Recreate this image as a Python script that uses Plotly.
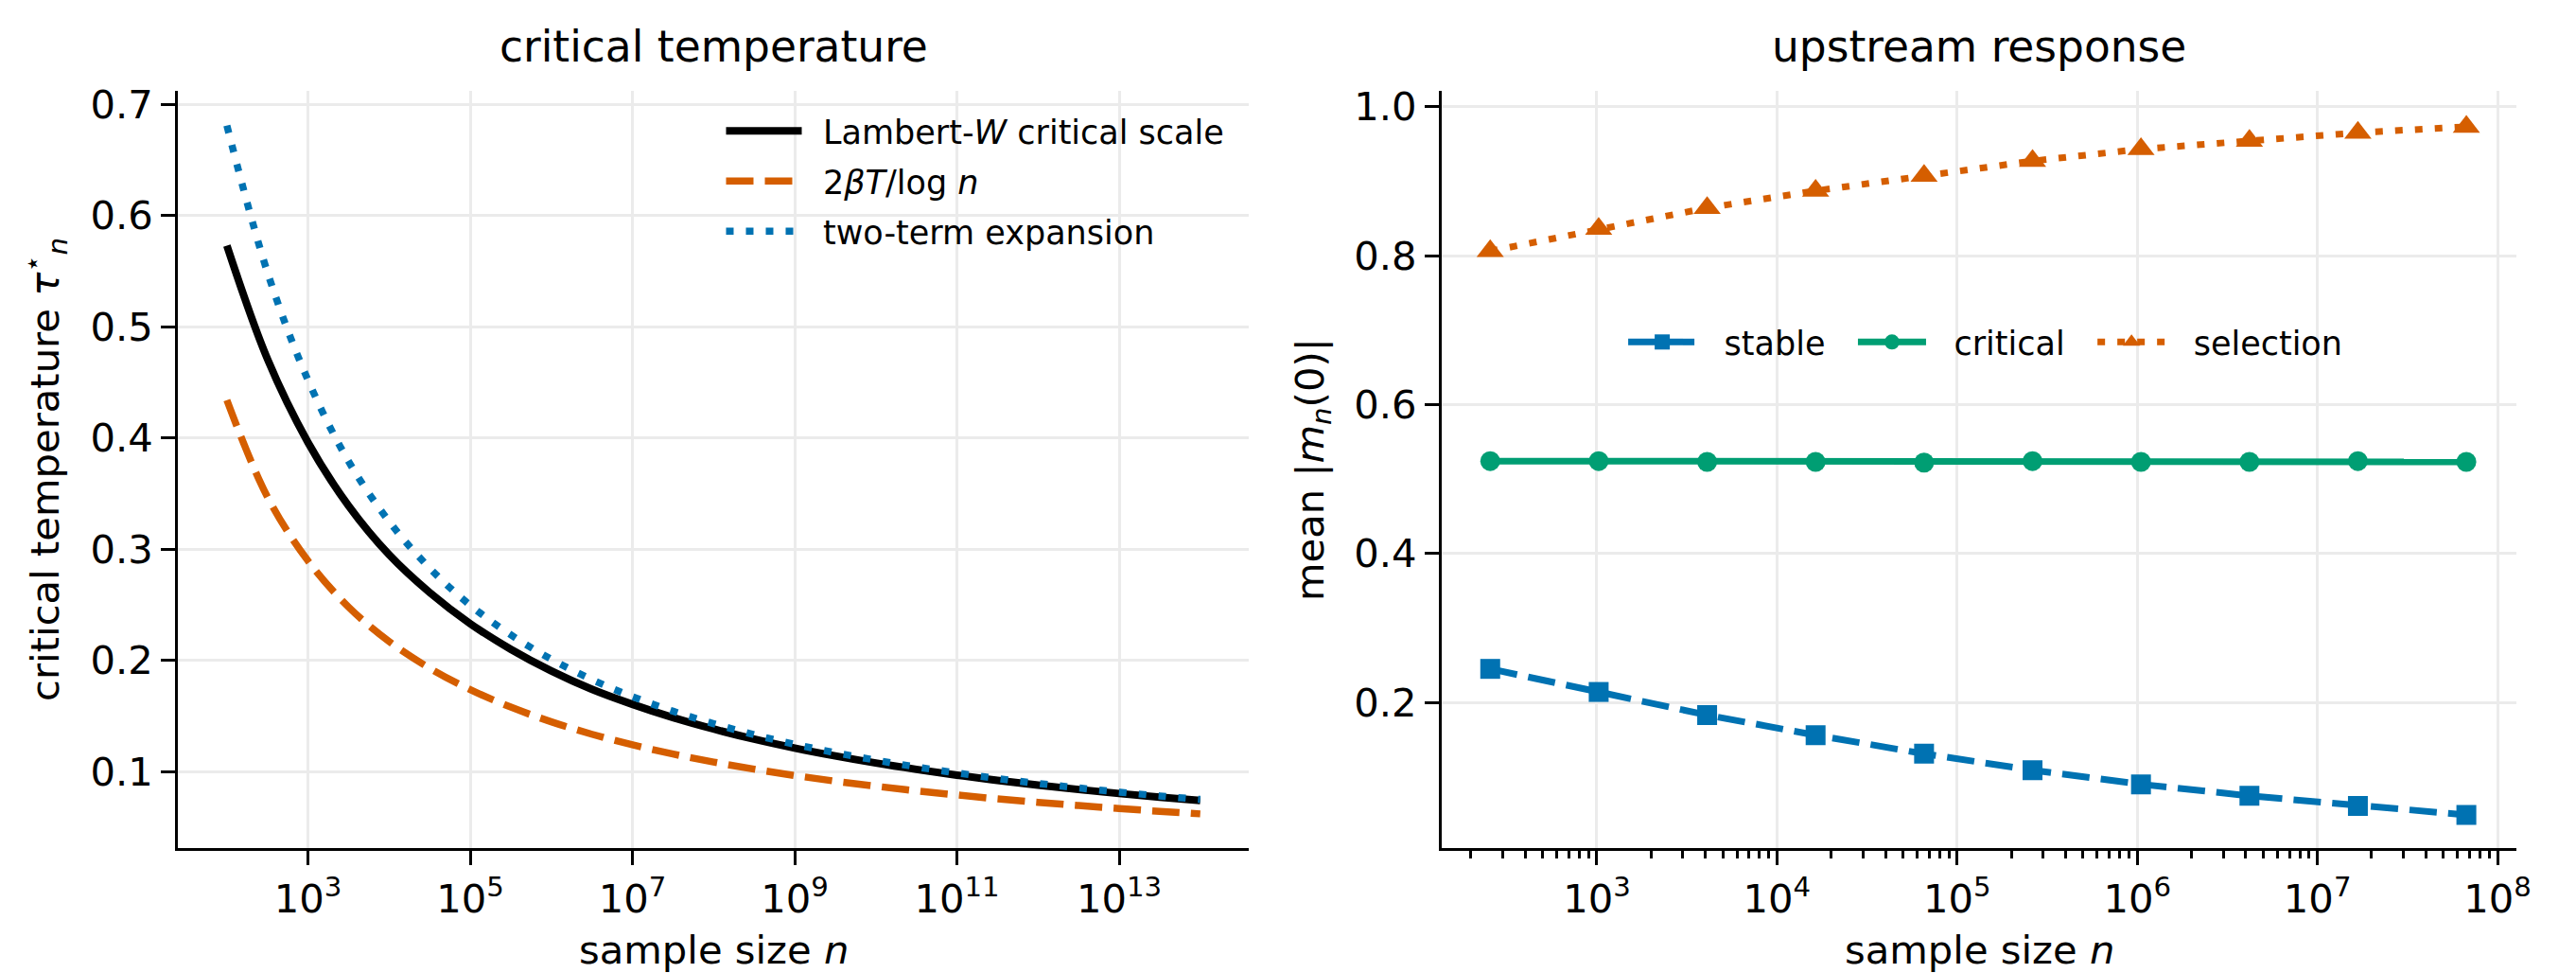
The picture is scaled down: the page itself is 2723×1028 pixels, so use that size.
import plotly.graph_objects as go

# ---------------- data ----------------
# left panel: sample size n (half-decade grid) and the three curves
n_left = [1e2, 10**2.5, 1e3, 10**3.5, 1e4, 10**4.5, 1e5, 10**5.5, 1e6, 10**6.5,
          1e7, 10**7.5, 1e8, 10**8.5, 1e9, 10**9.5, 1e10, 10**10.5, 1e11,
          10**11.5, 1e12, 10**12.5, 1e13, 10**13.5, 1e14]
lambert_w = [0.573, 0.471, 0.396, 0.339, 0.295, 0.261, 0.233, 0.210, 0.1905,
             0.174, 0.1605, 0.1486, 0.1383, 0.1292, 0.1212, 0.1141, 0.1077,
             0.1020, 0.0968, 0.0921, 0.0878, 0.0839, 0.0803, 0.0770, 0.0740]
two_beta_T = [0.434, 0.347, 0.2895, 0.248, 0.217, 0.193, 0.1737, 0.158, 0.1448,
              0.1336, 0.1241, 0.1158, 0.1086, 0.1022, 0.0965, 0.0914, 0.0869,
              0.0827, 0.0790, 0.0755, 0.0724, 0.0695, 0.0668, 0.0643, 0.0620]
two_term = [0.681, 0.549, 0.452, 0.379, 0.325, 0.283, 0.2496, 0.223, 0.201,
            0.1828, 0.1674, 0.1543, 0.1431, 0.1332, 0.1246, 0.1170, 0.1103,
            0.1042, 0.0988, 0.0938, 0.0894, 0.0853, 0.0816, 0.0781, 0.0750]

# right panel: sample sizes and mean |m_n(0)|
n_right = [256, 1024, 4096, 16384, 65536, 262144, 1048576, 4194304, 16777216, 67108864]
stable = [0.245, 0.214, 0.183, 0.156, 0.131, 0.109, 0.090, 0.0745, 0.061, 0.049]
critical = [0.524, 0.524, 0.523, 0.523, 0.522, 0.524, 0.523, 0.523, 0.524, 0.523]
selection = [0.806, 0.836, 0.864, 0.887, 0.907, 0.927, 0.943, 0.954, 0.965, 0.973]

left_xticks = [1e3, 1e5, 1e7, 1e9, 1e11, 1e13]
left_xticktext = ["10<sup>3</sup>", "10<sup>5</sup>", "10<sup>7</sup>", "10<sup>9</sup>",
                  "10<sup>11</sup>", "10<sup>13</sup>"]
right_xticks = [1e3, 1e4, 1e5, 1e6, 1e7, 1e8]
right_xticktext = ["10<sup>3</sup>", "10<sup>4</sup>", "10<sup>5</sup>", "10<sup>6</sup>",
                   "10<sup>7</sup>", "10<sup>8</sup>"]
left_yticks = [0.1, 0.2, 0.3, 0.4, 0.5, 0.6, 0.7]
left_yticktext = ["0.1", "0.2", "0.3", "0.4", "0.5", "0.6", "0.7"]
right_yticks = [0.2, 0.4, 0.6, 0.8, 1.0]
right_yticktext = ["0.2", "0.4", "0.6", "0.8", "1.0"]
right_minor = [m * 10**k for k in range(2, 8) for m in range(2, 10)]

# ---------------- styling ----------------
W, H = 2723, 1028
FONT = "DejaVu Sans"
BLACK = "#000000"
BLUE = "#0072B2"
ORANGE = "#D55E00"
GREEN = "#009E73"
GRID = "#ebebeb"
TICKF = 41.7
TITLEF = 45.5
LEGF = 35
PRE_L = "\u2002"          # gap between legend handle and label (left legend)
PRE = "\u2002\u2009"      # gap between legend handle and label (right legend)
POST = "\u2002\u2009"     # column spacing in the horizontal legend

fig = go.Figure()

# left panel
fig.add_trace(go.Scatter(x=n_left, y=lambert_w, mode="lines",
                         name=PRE_L + "Lambert-<i>W</i> critical scale",
                         line=dict(color=BLACK, width=8, shape="spline"),
                         xaxis="x", yaxis="y", legend="legend", legendgroup="a"))
fig.add_trace(go.Scatter(x=n_left, y=two_beta_T, mode="lines",
                         name=PRE_L + "2<i>βT</i>/log <i>n</i>",
                         line=dict(color=ORANGE, width=7.5, dash="29px,12px", shape="spline"),
                         xaxis="x", yaxis="y", legend="legend", legendgroup="b"))
fig.add_trace(go.Scatter(x=n_left, y=two_term, mode="lines",
                         name=PRE_L + "two-term expansion",
                         line=dict(color=BLUE, width=7.5, dash="8px,13px", shape="spline"),
                         xaxis="x", yaxis="y", legend="legend", legendgroup="c"))

# right panel
fig.add_trace(go.Scatter(x=n_right, y=stable, mode="lines+markers", name=PRE + "stable" + POST,
                         line=dict(color=BLUE, width=7, dash="29px,12px"),
                         marker=dict(symbol="square", size=21, color=BLUE, line=dict(width=0)),
                         xaxis="x2", yaxis="y2", legend="legend2"))
fig.add_trace(go.Scatter(x=n_right, y=critical, mode="lines+markers", name=PRE + "critical" + POST,
                         line=dict(color=GREEN, width=7),
                         marker=dict(symbol="circle", size=21, color=GREEN, line=dict(width=0)),
                         xaxis="x2", yaxis="y2", legend="legend2"))
fig.add_trace(go.Scatter(x=n_right, y=selection, mode="lines+markers", name=PRE + "selection",
                         line=dict(color=ORANGE, width=7, dash="8px,13px"),
                         marker=dict(symbol="triangle-up", size=25, color=ORANGE, line=dict(width=0)),
                         xaxis="x2", yaxis="y2", legend="legend2"))

ydom = [1 - 895 / H, 1 - 87 / H]
axis_common = dict(showline=True, linecolor=BLACK, linewidth=3.3, mirror=False,
                   ticks="outside", ticklen=15, tickwidth=3, tickcolor=BLACK,
                   showgrid=True, gridcolor=GRID, gridwidth=3, zeroline=False,
                   tickfont=dict(family=FONT, size=TICKF, color=BLACK))

fig.update_layout(
    width=W, height=H, autosize=False,
    margin=dict(l=0, r=0, t=0, b=0, pad=0),
    paper_bgcolor="white", plot_bgcolor="white",
    font=dict(family=FONT, color=BLACK),
    xaxis=dict(domain=[189.5 / W, 1328 / W], type="log", range=[1.4, 14.6],
               tickmode="array", tickvals=left_xticks, ticktext=left_xticktext,
               anchor="y", **axis_common),
    yaxis=dict(domain=ydom, range=[0.031, 0.712], tickmode="array",
               tickvals=left_yticks, ticktext=left_yticktext, anchor="x", **axis_common),
    xaxis2=dict(domain=[1533 / W, 2676 / W], type="log", range=[2.139, 8.106],
                tickmode="array", tickvals=right_xticks, ticktext=right_xticktext,
                minor=dict(tickmode="array", tickvals=right_minor, ticks="outside",
                           ticklen=8, tickwidth=2.5, tickcolor=BLACK, showgrid=False),
                anchor="y2", **axis_common),
    yaxis2=dict(domain=ydom, range=[0.004, 1.021], tickmode="array",
                tickvals=right_yticks, ticktext=right_yticktext, anchor="x2", **axis_common),
    legend=dict(x=767 / W, y=1 - 100 / H, xanchor="left", yanchor="top",
                bgcolor="rgba(0,0,0,0)", borderwidth=0, tracegroupgap=4.5,
                itemwidth=80,
                font=dict(family=FONT, size=LEGF, color=BLACK)),
    legend2=dict(x=2111 / W, y=1 - 355 / H, xanchor="center", yanchor="middle",
                 orientation="h", bgcolor="rgba(0,0,0,0)", borderwidth=0,
                 itemwidth=72,
                 font=dict(family=FONT, size=LEGF, color=BLACK)),
    showlegend=True,
)

annotations = [
    dict(text="critical temperature", x=(189.5 + 1328) / 2 / W, y=1 - 40 / H,
         font=dict(size=TITLEF)),
    dict(text="upstream response", x=(1533 + 2676) / 2 / W, y=1 - 40 / H,
         font=dict(size=TITLEF)),
    dict(text="sample size <i>n</i>", x=(189.5 + 1328) / 2 / W, y=1 - 1003 / H,
         font=dict(size=TICKF)),
    dict(text="sample size <i>n</i>", x=(1533 + 2676) / 2 / W, y=1 - 1003 / H,
         font=dict(size=TICKF)),
    dict(text="critical temperature <i>τ</i><sup>⋆</sup><sub><i>n</i></sub>", x=48 / W,
         y=1 - 491 / H, textangle=-90, font=dict(size=TICKF)),
    dict(text="mean |<i>m</i><sub><i>n</i></sub>(0)|", x=1395 / W, y=1 - 491 / H,
         textangle=-90, font=dict(size=TICKF)),
]
for a in annotations:
    a.update(xref="paper", yref="paper", showarrow=False, xanchor="center", yanchor="middle")
    a["font"].update(family=FONT, color=BLACK)
fig.update_layout(annotations=annotations)

fig.write_html("out.html")
